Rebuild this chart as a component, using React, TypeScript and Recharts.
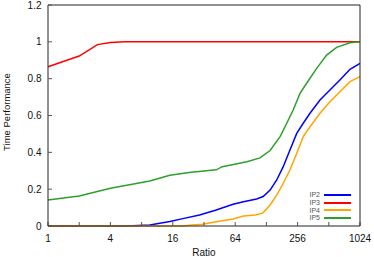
import { LineChart, Line, XAxis, YAxis } from 'recharts';

const ratioTicks = [1, 2, 4, 8, 16, 32, 64, 128, 256, 512, 1024];
const labelledRatios = [1, 4, 16, 64, 256, 1024];
const perfTicks = [0, 0.2, 0.4, 0.6, 0.8, 1, 1.2];

const ip2Ratio = [1, 5.7, 9.6, 15, 20, 29, 42, 61, 77, 103, 119, 139, 161, 186, 216, 251, 290, 337, 421, 525, 655, 820, 1024];
const ip2Perf = [0, 0, 0.006, 0.024, 0.04, 0.06, 0.087, 0.118, 0.132, 0.147, 0.16, 0.195, 0.25, 0.322, 0.413, 0.503, 0.558, 0.612, 0.684, 0.738, 0.793, 0.851, 0.883];

const ip3Ratio = [1, 2, 3, 4, 5.5, 8, 1024];
const ip3Perf = [0.865, 0.923, 0.985, 0.996, 1, 1, 1];

const ip4Ratio = [1, 20, 23, 31, 42, 61, 77, 100, 118, 139, 161, 186, 216, 251, 290, 337, 421, 525, 655, 820, 1024];
const ip4Perf = [0, 0, 0.004, 0.009, 0.023, 0.038, 0.054, 0.06, 0.07, 0.114, 0.168, 0.232, 0.304, 0.395, 0.485, 0.539, 0.612, 0.675, 0.729, 0.784, 0.811];

const ip5Ratio = [1, 2, 4, 9.6, 15, 23, 42, 48, 83, 111, 139, 174, 201, 232, 270, 313, 391, 488, 609, 820, 1024];
const ip5Perf = [0.141, 0.163, 0.205, 0.244, 0.275, 0.29, 0.305, 0.322, 0.349, 0.37, 0.41, 0.487, 0.558, 0.63, 0.72, 0.775, 0.856, 0.928, 0.97, 0.995, 1];

const toRows = (xs: number[], ys: number[]) => xs.map((r, i) => ({ ratio: r, perf: ys[i] }));

const series = [
  { name: 'IP2', color: '#0000ff', data: toRows(ip2Ratio, ip2Perf) },
  { name: 'IP3', color: '#ff0000', data: toRows(ip3Ratio, ip3Perf) },
  { name: 'IP4', color: '#ffa500', data: toRows(ip4Ratio, ip4Perf) },
  { name: 'IP5', color: '#2ca02c', data: toRows(ip5Ratio, ip5Perf) },
];

const font = '"Liberation Sans", Arial, sans-serif';
const tickStyle = { fill: '#111', fontSize: 10, fontFamily: font };
const axisLine = { stroke: '#222', strokeWidth: 1 };
const tickLine = { stroke: '#555' };

export default function App() {
  return (
    <div style={{ position: 'absolute', left: 0, top: 0, width: 374, height: 257, background: '#fff' }}>
      <LineChart width={374} height={257} margin={{ top: 0, right: 0, left: 0, bottom: 0 }}>
        <XAxis
          xAxisId="main"
          type="number"
          dataKey="ratio"
          scale="log"
          domain={[1, 1024]}
          ticks={ratioTicks}
          tickFormatter={(v: number) => (labelledRatios.includes(v) ? String(v) : '')}
          height={31}
          tickSize={-4}
          tickMargin={12.5}
          axisLine={axisLine}
          tickLine={tickLine}
          tick={tickStyle}
          interval={0}
          allowDuplicatedCategory={false}
          label={{ value: 'Ratio', position: 'insideBottom', offset: 1, style: { fill: '#111', fontSize: 10, fontFamily: font } }}
        />
        <XAxis
          xAxisId="top"
          orientation="top"
          type="number"
          dataKey="ratio"
          scale="log"
          domain={[1, 1024]}
          ticks={ratioTicks}
          tickFormatter={() => ''}
          height={5}
          tickSize={-4}
          axisLine={axisLine}
          tickLine={tickLine}
          interval={0}
        />
        <YAxis
          yAxisId="main"
          type="number"
          domain={[0, 1.2]}
          ticks={perfTicks}
          tickFormatter={(v: number) => String(Math.round(v * 10) / 10)}
          width={48}
          tickSize={-4}
          tickMargin={10.5}
          axisLine={axisLine}
          tickLine={tickLine}
          tick={tickStyle}
          interval={0}
          label={{
            content: () => (
              <text x={10} y={112} transform="rotate(-90 10 112)" textAnchor="middle" fill="#111" fontSize={9.5} fontFamily={font}>
                Time Performance
              </text>
            ),
          }}
        />
        <YAxis
          yAxisId="right"
          orientation="right"
          type="number"
          domain={[0, 1.2]}
          ticks={perfTicks}
          tickFormatter={() => ''}
          width={14}
          tickSize={-4}
          axisLine={axisLine}
          tickLine={tickLine}
          interval={0}
        />
        {series.map((s) => (
          <Line
            key={s.name}
            xAxisId="main"
            yAxisId="main"
            data={s.data}
            dataKey="perf"
            name={s.name}
            type="linear"
            stroke={s.color}
            strokeWidth={1.5}
            dot={false}
            isAnimationActive={false}
          />
        ))}
      </LineChart>
      <div style={{ position: 'absolute', left: 296, top: 191, width: 55, fontFamily: font, fontSize: 7, color: '#555' }}>
        {series.map((s) => (
          <div key={s.name} style={{ display: 'flex', alignItems: 'center', justifyContent: 'flex-end', height: 7.8 }}>
            <span style={{ marginRight: 4, lineHeight: '7.8px' }}>{s.name}</span>
            <span style={{ display: 'inline-block', width: 27, height: 2, background: s.color }} />
          </div>
        ))}
      </div>
    </div>
  );
}
